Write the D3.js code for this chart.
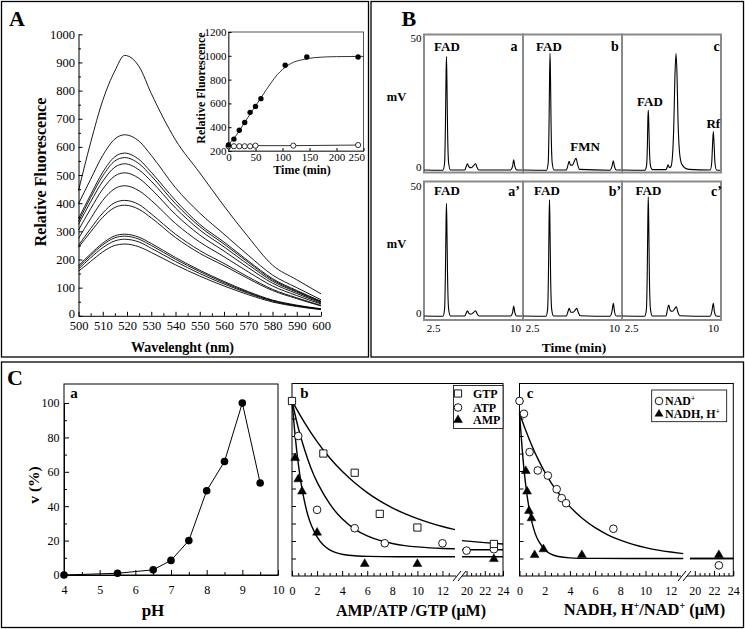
<!DOCTYPE html>
<html><head><meta charset="utf-8">
<script src="https://cdn.jsdelivr.net/npm/d3@7/dist/d3.min.js"></script>
<style>html,body{margin:0;padding:0;background:#fff}svg{display:block}</style>
</head><body>
<script>
// ================= DATA =================
// Panel A – emission spectra
const specWavelengths = [500,505,510,515,519,525,530,540,550,560,570,580,590,600];
const spectrum1  = [445,615,765,870,925,885,790,625,508,390,280,180,128,78];
const spectrum2  = [398,485,570,628,643,620,570,455,365,290,215,145,100,57];
const spectrum3  = [345,430,510,565,578,555,510,410,325,262,195,132,90,52];
const spectrum4  = [335,420,497,550,562,540,497,398,317,255,190,128,87,50];
const spectrum5  = [325,405,478,528,540,518,478,383,305,245,182,123,84,48];
const spectrum6  = [305,380,450,497,508,488,450,360,287,230,171,116,79,45];
const spectrum7  = [275,345,410,452,462,444,410,328,262,210,156,106,72,42];
const spectrum8  = [250,310,365,402,410,395,362,290,232,186,138,94,64,37];
const spectrum9  = [243,298,350,385,393,378,348,278,222,178,132,90,61,35];
const spectrum10 = [178,220,258,284,290,279,257,207,162,122,86,56,38,25];
const spectrum11 = [173,214,252,277,283,272,250,201,157,118,83,54,36,24];
const spectrum12 = [166,206,242,266,272,262,240,193,150,113,80,52,35,23];
const spectrum13 = [158,193,227,250,255,245,225,181,141,106,75,49,33,22];
const spectra = [spectrum1,spectrum2,spectrum3,spectrum4,spectrum5,spectrum6,spectrum7,
                 spectrum8,spectrum9,spectrum10,spectrum11,spectrum12,spectrum13];
const aTicksX = [500,510,520,530,540,550,560,570,580,590,600];
const aMinorX = [505,515,525,535,545,555,565,575,585,595];
const aTicksY = [0,100,200,300,400,500,600,700,800,900,1000];
const aMinorY = [50,150,250,350,450,550,650,750,850,950];

// Panel A inset – kinetics
const insetTicksX = [0,50,100,150,200,250];
const insetTicksY = [200,400,600,800,1000,1200];
const timeFilled  = [0,10,20,30,40,50,60,105,145,240];
const fluorFilled = [250,300,375,440,525,575,640,920,990,990];
const timeOpen    = [0,10,20,30,40,50,120,240];
const fluorOpen   = [240,240,240,240,240,245,245,250];
const fitTime     = [0,10,20,30,40,50,60,70,80,90,100,110,120,140,160,200,250];
const fitFluor    = [255,305,370,440,510,580,645,715,780,840,885,920,945,970,985,993,995];

// Panel B – chromatograms [time (min), mV]
const chromTicks = [2.5,10];
const chromYTicks = [0,50];
const chromA = [[1.7,0.4],[3.41,0.3],[3.56,3],[3.64,18],[3.69,35],[3.73,43],[3.77,35],[3.83,16],[3.93,3],[4.09,0.4],
  [5.4,0.4],[5.55,1.8],[5.65,2.7],[5.78,1.6],[5.98,1.2],[6.2,1.9],[6.4,2.7],[6.52,1.4],[6.7,0.4],
  [9.6,0.4],[9.78,1.8],[9.88,4.2],[9.98,1.8],[10.15,0.4],[10.65,0.4]];
const chromB = [[1.7,0.4],[3.83,0.3],[3.98,3],[4.06,18],[4.11,36],[4.15,44.2],[4.19,36],[4.25,16],[4.35,3],[4.51,0.4],
  [5.65,0.4],[5.8,2.4],[5.9,3.6],[6.02,2.2],[6.2,2.2],[6.38,3.8],[6.53,4.8],[6.66,2.6],[6.85,0.6],
  [9.65,0.3],[9.82,1.8],[9.94,3.8],[10.05,1.6],[10.2,0.4],[10.65,0.4]];
const chromC = [[1.7,0.4],[3.78,0.3],[3.92,2],[4.0,10],[4.04,19],[4.08,22.9],[4.12,19],[4.18,9],[4.28,2],[4.45,0.5],
  [5.7,0.5],[5.82,1.6],[5.9,2.3],[6.0,1.3],[6.15,1.6],[6.3,6],[6.42,18],[6.52,36],[6.62,44.2],[6.71,36],[6.8,19],[6.92,8],[7.1,3],[7.4,1.2],[7.8,0.6],
  [9.75,0.4],[9.88,3],[9.96,10],[10.03,14.8],[10.1,10],[10.18,3],[10.32,0.4],[10.65,0.3]];
const chromA2 = [[1.7,0.4],[3.41,0.3],[3.56,3],[3.64,18],[3.69,35],[3.73,43.4],[3.77,35],[3.83,16],[3.93,3],[4.09,0.4],
  [5.4,0.4],[5.55,1.6],[5.65,2.4],[5.78,1.4],[5.98,1.1],[6.2,1.7],[6.4,2.4],[6.52,1.3],[6.7,0.4],
  [9.6,0.4],[9.78,1.8],[9.88,4.2],[9.98,1.8],[10.15,0.4],[10.65,0.4]];
const chromB2 = [[1.7,0.4],[3.78,0.3],[3.93,3],[4.01,18],[4.06,36],[4.1,44.7],[4.14,36],[4.2,16],[4.3,3],[4.46,0.4],
  [5.65,0.4],[5.8,2.2],[5.9,3.3],[6.05,1.8],[6.25,1.8],[6.45,2.6],[6.6,3.3],[6.73,1.8],[6.9,0.5],
  [9.65,0.3],[9.82,2.2],[9.94,5.2],[10.05,2.0],[10.2,0.4],[10.65,0.4]];
const chromC2 = [[1.7,0.4],[3.76,0.3],[3.91,3],[3.99,18],[4.04,37],[4.08,45.9],[4.12,37],[4.18,16],[4.28,3],[4.44,0.4],
  [5.7,0.4],[5.84,3],[5.95,4.6],[6.1,2.4],[6.3,2.2],[6.5,3.2],[6.65,3.9],[6.78,2],[6.95,0.5],
  [9.75,0.3],[9.9,2.2],[10.03,5.2],[10.13,2],[10.3,0.4],[10.65,0.3]];

// Panel C-a – pH profile
const phTicks = [4,5,6,7,8,9,10];
const phMinor = [4.5,5.5,6.5,7.5,8.5,9.5];
const vTicks = [0,20,40,60,80,100];
const vMinor = [10,30,50,70,90];
const phValues   = [4,5.5,6.5,7,7.5,8,8.5,9,9.5];
const phActivity = [0,1,3,8.5,20,49,66,100,53.5];

// Panel C-b – nucleotides
const concTicks1 = [0,2,4,6,8,10,12];
const concMinor1 = [0.5,1,1.5,2.5,3,3.5,4.5,5,5.5,6.5,7,7.5,8.5,9,9.5,10.5,11,11.5,12.5];
const concTicks2 = [20,22,24];
const concMinor2 = [20.5,21,21.5,22.5,23,23.5];
const vTicksBC = [10,20,30,40,50,60,70,80,90,100];
const gtpConc = [0,2.5,5,7,10,23];
const gtpV    = [100,70,59,35.5,27.7,18.3];
const atpConc = [0.5,2,5,7.4,12,20,23];
const atpV    = [80,37.8,27.3,18.7,18.7,14.5,15.3];
const ampConc = [0.25,0.5,0.8,2,5.8,10,23];
const ampV    = [67.4,55.3,48.3,24.8,6.9,6.9,9.7];
const gtpFitX  = [0,1,2,3,4,5,6,7,8,9,10,11,12,13];
const gtpFitY  = [100,87.3,76.5,67.3,59.6,53.1,47.5,42.8,38.9,35.5,32.7,30.3,28.2,26.5];
const gtpFitX2 = [19.5,22,24];
const gtpFitY2 = [20.2,19.1,18.3];
const atpFitX  = [0,0.5,1,1.5,2,3,4,5,6,7,8,9,10,11,12,13];
const atpFitY  = [100,84,72,61.5,53.2,40.6,32.2,26.5,22.7,20.2,18.5,17.3,16.6,16,15.7,15.5];
const atpFitX2 = [19.5,24];
const atpFitY2 = [15,15];
const ampFitX  = [0,0.25,0.5,0.75,1,1.25,1.5,2,2.5,3,3.5,4,5,6,8,13];
const ampFitY  = [100,79.4,63.6,51.4,42.1,34.9,29.3,21.9,17.4,14.8,13.2,12.3,11.5,11.2,11,11];
const ampFitX2 = [19.5,24];
const ampFitY2 = [11,11];

// Panel C-c – NAD+/NADH
const nadConc  = [0,0.35,0.8,1.45,2.25,2.95,3.35,3.7,7.45,22.5];
const nadV     = [100,92.7,70.8,60.3,57.4,49.6,44.5,41.6,27,6.1];
const nadhConc = [0.5,0.6,0.75,0.95,1.2,1.9,4.95,22.5];
const nadhV    = [60,48.3,37.2,33,12,15.3,12,12];
const nadFitX  = [0,0.5,1,1.5,2,2.5,3,4,5,6,7,8,9,10,11,12,13];
const nadFitY  = [93,82.9,74,66.2,59.3,53.3,48,39.3,32.6,27.4,23.4,20.4,18,16.2,14.7,13.7,12.8];
const nadFitX2 = [19.5,24];
const nadFitY2 = [10,10];
const nadhFitX = [0,0.25,0.5,0.75,1,1.25,1.5,2,2.5,3,4,5,13];
const nadhFitY = [93,68.1,50.7,38.5,30,23.9,19.7,14.8,12.3,11.1,10.3,10,10];
const nadhFitX2 = [19.5,24];
const nadhFitY2 = [10,10];

// ================= DRAWING =================
const FONT = '"Liberation Serif","Times New Roman",Times,serif';
const fmt = d3.format("~g");
const svg = d3.select("body").append("svg").attr("width",745).attr("height",629)
  .style("font-family",FONT);

function frame(x,y,w,h,stroke="#000",sw=1.3){
  return svg.append("rect").attr("x",x).attr("y",y).attr("width",w).attr("height",h)
    .attr("fill","none").attr("stroke",stroke).attr("stroke-width",sw);
}
function txt(x,y,s,size,opt={}){
  const t = svg.append("text").attr("x",x).attr("y",y).attr("font-size",size)
    .attr("font-weight",opt.bold===false?"normal":"bold")
    .attr("text-anchor",opt.anchor||"middle").attr("fill","#000");
  if(opt.rot) t.attr("transform",`rotate(-90,${x},${y})`);
  t.text(s);
  return t;
}
function styleAxis(g,size,keepDomain=true){
  g.attr("font-family",FONT).attr("font-size",size);
  g.selectAll(".tick line").attr("stroke","#000");
  g.selectAll("text").attr("fill","#000");
  if(keepDomain) g.select(".domain").attr("stroke","#000");
  else g.select(".domain").remove();
}
function lineXY(xs,ys,xsc,ysc,curve=d3.curveMonotoneX){
  return d3.line().x((d,i)=>xsc(xs[i])).y((d,i)=>ysc(ys[i])).curve(curve)(xs);
}

// Outer frames
frame(1.5,1.5,367,355.5);
frame(371,1.5,372.5,355.5);
frame(1.5,362,742,265.5);

// ---------- Panel A main ----------
txt(9,26,"A",22,{anchor:"start"});
const xA = d3.scaleLinear().domain([500,600]).range([78.5,321]);
const yA = d3.scaleLinear().domain([0,1000]).range([315.8,34.3]);
svg.append("g").attr("transform",`translate(0,${yA(0)})`)
  .call(d3.axisBottom(xA).tickValues(aTicksX).tickFormat(fmt).tickSize(-4).tickSizeOuter(0).tickPadding(5.5))
  .call(g=>styleAxis(g,12.5));
svg.append("g").attr("transform",`translate(0,${yA(0)})`)
  .call(d3.axisBottom(xA).tickValues(aMinorX).tickSize(-2.5).tickFormat(""))
  .call(g=>styleAxis(g,12.5,false));
svg.append("g").attr("transform",`translate(${xA(500)},0)`)
  .call(d3.axisLeft(yA).tickValues(aTicksY).tickFormat(fmt).tickSize(-4).tickSizeOuter(0).tickPadding(3.5))
  .call(g=>{styleAxis(g,12.5);
    g.selectAll(".tick text").filter(d=>d===0).attr("dy","0.1em");});
svg.append("g").attr("transform",`translate(${xA(500)},0)`)
  .call(d3.axisLeft(yA).tickValues(aMinorY).tickSize(-2.5).tickFormat(""))
  .call(g=>styleAxis(g,12.5,false));
spectra.forEach(s=>{
  svg.append("path").attr("d",lineXY(specWavelengths,s,xA,yA))
    .attr("fill","none").attr("stroke","#000").attr("stroke-width",0.9);
});
txt(45.5,172,"Relative Fluorescence",16,{rot:true});
txt(182.5,352,"Wavelenght (nm)",14);

// ---------- Panel A inset ----------
const xI = d3.scaleLinear().domain([0,250]).range([228.5,363.5]);
const yI = d3.scaleLinear().domain([200,1200]).range([151,32]);
svg.append("rect").attr("x",228.5).attr("y",32).attr("width",135).attr("height",119)
  .attr("fill","#fff").attr("stroke","#555").attr("stroke-width",1);
svg.append("g").attr("transform",`translate(0,151)`)
  .call(d3.axisBottom(xI).tickValues(insetTicksX).tickFormat(fmt).tickSize(-3).tickSizeOuter(0).tickPadding(1.8))
  .call(g=>{styleAxis(g,11); g.select(".domain").attr("stroke","#555");
    g.selectAll(".tick text").filter(d=>d===250).attr("text-anchor","end").attr("dx","0.1em");});
svg.append("g").attr("transform",`translate(228.5,0)`)
  .call(d3.axisLeft(yI).tickValues(insetTicksY).tickFormat(fmt).tickSize(-3).tickSizeOuter(0).tickPadding(2))
  .call(g=>{styleAxis(g,11); g.select(".domain").attr("stroke","#555");});
svg.append("path").attr("d",lineXY(fitTime,fitFluor,xI,yI))
  .attr("fill","none").attr("stroke","#000").attr("stroke-width",0.8);
svg.append("path").attr("d",lineXY(timeOpen,fluorOpen,xI,yI,d3.curveLinear))
  .attr("fill","none").attr("stroke","#000").attr("stroke-width",0.8);
svg.append("g").selectAll("circle").data(timeOpen).join("circle")
  .attr("cx",d=>xI(d)).attr("cy",(d,i)=>yI(fluorOpen[i])).attr("r",2.6)
  .attr("fill","#fff").attr("stroke","#000").attr("stroke-width",0.8);
svg.append("g").selectAll("circle").data(timeFilled).join("circle")
  .attr("cx",d=>xI(d)).attr("cy",(d,i)=>yI(fluorFilled[i])).attr("r",2.7).attr("fill","#000");
txt(205,88,"Relative Fluorescence",12,{rot:true});
txt(302,174,"Time (min)",12);

// ---------- Panel B ----------
txt(401.5,26,"B",22,{anchor:"start"});
const bCols = [424,523,622];
const bRows = [{top:34.5,bottom:172.5,y0:171,y50:38},{top:181.5,bottom:320,y0:317,y50:186}];
const chroms = [[chromA,chromB,chromC],[chromA2,chromB2,chromC2]];
bRows.forEach((row,ri)=>{
  bCols.forEach((L,ci)=>{
    const x = d3.scaleLinear().domain([2.5,10]).range([L+9,L+91]);
    const y = d3.scaleLinear().domain([0,50]).range([row.y0,row.y50]);
    svg.append("rect").attr("x",L).attr("y",row.top).attr("width",99).attr("height",row.bottom-row.top)
      .attr("fill","none").attr("stroke","#8a8a8a").attr("stroke-width",2);
    const pts = chroms[ri][ci];
    svg.append("path").attr("d",d3.line().x(d=>x(d[0])).y(d=>y(d[1])).curve(d3.curveMonotoneX)(pts))
      .attr("fill","none").attr("stroke","#000").attr("stroke-width",1.1);
    if(ri===1){
      svg.append("g").attr("transform",`translate(0,${row.bottom})`)
        .call(d3.axisBottom(x).tickValues(chromTicks).tickFormat(fmt).tickSize(0).tickPadding(4))
        .call(g=>styleAxis(g,11,false));
    }
  });
  const y = d3.scaleLinear().domain([0,50]).range([row.y0,row.y50]);
  chromYTicks.forEach(v=>{
    txt(421.5, v===0 ? y(v) : y(v)+4, String(v), 11, {anchor:"end",bold:false});
  });
  txt(396.5,(row.top+row.bottom)/2-3,"mV",12.5);
});
// labels in B
txt(447,51,"FAD",13); txt(514,51,"a",14);
txt(549,51,"FAD",13); txt(615,51,"b",14);
txt(716.5,51,"c",14);
txt(585,151,"FMN",13);
txt(650,106,"FAD",13); txt(713.3,128,"Rf",13);
txt(447,194.5,"FAD",13); txt(514,196,"a\u2019",14);
txt(547,194.5,"FAD",13); txt(615,196,"b\u2019",14);
txt(648.5,194.5,"FAD",13); txt(716.5,196,"c\u2019",14);
txt(574,352,"Time (min)",13.5);

// ---------- Panel C ----------
txt(7,385,"C",22,{anchor:"start"});
// C-a
const xPH = d3.scaleLinear().domain([4,10]).range([64,278]);
const yVa = d3.scaleLinear().domain([0,100]).range([575,403]);
frame(64,384,214,191,"#000",1);
svg.append("g").attr("transform",`translate(0,575)`)
  .call(d3.axisBottom(xPH).tickValues(phTicks).tickFormat(fmt).tickSize(-5).tickSizeOuter(0).tickPadding(10))
  .call(g=>styleAxis(g,12));
svg.append("g").attr("transform",`translate(0,575)`)
  .call(d3.axisBottom(xPH).tickValues(phMinor).tickSize(-3).tickFormat(""))
  .call(g=>styleAxis(g,12,false));
svg.append("g").attr("transform",`translate(64,0)`)
  .call(d3.axisLeft(yVa).tickValues(vTicks).tickFormat(fmt).tickSize(-5).tickSizeOuter(0).tickPadding(4.5))
  .call(g=>styleAxis(g,12));
svg.append("g").attr("transform",`translate(64,0)`)
  .call(d3.axisLeft(yVa).tickValues(vMinor).tickSize(-3).tickFormat(""))
  .call(g=>styleAxis(g,12,false));
svg.append("path").attr("d",lineXY(phValues,phActivity,xPH,yVa,d3.curveLinear))
  .attr("fill","none").attr("stroke","#000").attr("stroke-width",1);
svg.append("g").selectAll("circle").data(phValues).join("circle")
  .attr("cx",d=>xPH(d)).attr("cy",(d,i)=>yVa(phActivity[i])).attr("r",3.8).attr("fill","#000");
txt(74,398,"a",15);
txt(39,485,"v (%)",15.5,{rot:true});
txt(153,616,"pH",17);

// helper for broken-axis panels
function brokenPanel(cfg){
  const {x1,x2,y,left,right,top,bottom} = cfg;
  frame(left,top,right-left,bottom-top,"#000",1);
  svg.append("g").attr("transform",`translate(0,${bottom})`)
    .call(d3.axisBottom(x1).tickValues(concTicks1).tickFormat(fmt).tickSize(-5).tickSizeOuter(0).tickPadding(10))
    .call(g=>styleAxis(g,12,false));
  svg.append("g").attr("transform",`translate(0,${bottom})`)
    .call(d3.axisBottom(x1).tickValues(concMinor1).tickSize(-3).tickFormat(""))
    .call(g=>styleAxis(g,12,false));
  svg.append("g").attr("transform",`translate(0,${bottom})`)
    .call(d3.axisBottom(x2).tickValues(concTicks2).tickFormat(fmt).tickSize(-5).tickSizeOuter(0).tickPadding(10))
    .call(g=>styleAxis(g,12,false));
  svg.append("g").attr("transform",`translate(0,${bottom})`)
    .call(d3.axisBottom(x2).tickValues(concMinor2).tickSize(-3).tickFormat(""))
    .call(g=>styleAxis(g,12,false));
  svg.append("g").attr("transform",`translate(${left},0)`)
    .call(d3.axisLeft(y).tickValues(vTicksBC).tickSize(-4).tickFormat(""))
    .call(g=>styleAxis(g,12,false));
  // break marks
  const bx = cfg.breakX;
  svg.append("rect").attr("x",bx-1).attr("y",bottom-2).attr("width",6).attr("height",4).attr("fill","#fff");
  [0,5].forEach(o=>{
    svg.append("line").attr("x1",bx-4+o).attr("y1",bottom+5).attr("x2",bx+4+o).attr("y2",bottom-5)
      .attr("stroke","#000").attr("stroke-width",1);
  });
}
function fit(xs,ys,xs2,ys2,x1,x2,y){
  svg.append("path").attr("d",lineXY(xs,ys,x1,y,d3.curveBasis))
    .attr("fill","none").attr("stroke","#000").attr("stroke-width",1.4);
  svg.append("path").attr("d",lineXY(xs2,ys2,x2,y,d3.curveLinear))
    .attr("fill","none").attr("stroke","#000").attr("stroke-width",1.4);
}
function pos(c,x1,x2){ return c>15 ? x2(c) : x1(c); }
function markers(cs,vs,x1,x2,y,type,filled){
  svg.append("g").selectAll("path").data(cs).join("path")
    .attr("transform",(d,i)=>`translate(${pos(d,x1,x2)},${y(vs[i])})`)
    .attr("d",d3.symbol().type(type).size(type===d3.symbolTriangle?34:(type===d3.symbolSquare?52:46)))
    .attr("fill",filled?"#000":"#fff").attr("stroke","#000").attr("stroke-width",filled?0.5:0.9);
}

// C-b
const xb1 = d3.scaleLinear().domain([0,13]).range([292,455]);
const xb2 = d3.scaleLinear().domain([19.5,24]).range([462,503]);
const yb  = d3.scaleLinear().domain([0,100]).range([576,401]);
brokenPanel({x1:xb1,x2:xb2,y:yb,left:292,right:503,top:383.5,bottom:576,breakX:457});
fit(gtpFitX,gtpFitY,gtpFitX2,gtpFitY2,xb1,xb2,yb);
fit(atpFitX,atpFitY,atpFitX2,atpFitY2,xb1,xb2,yb);
fit(ampFitX,ampFitY,ampFitX2,ampFitY2,xb1,xb2,yb);
markers(ampConc,ampV,xb1,xb2,yb,d3.symbolTriangle,true);
markers(atpConc,atpV,xb1,xb2,yb,d3.symbolCircle,false);
markers(gtpConc,gtpV,xb1,xb2,yb,d3.symbolSquare,false);
txt(304.5,398,"b",15);
// legend b
svg.append("rect").attr("x",453.5).attr("y",385.5).attr("width",49.5).attr("height",43)
  .attr("fill","#fff").attr("stroke","#000").attr("stroke-width",0.8);
[[d3.symbolSquare,false,"GTP",393.5],[d3.symbolCircle,false,"ATP",407.5],[d3.symbolTriangle,true,"AMP",420]].forEach(([t,f,l,yy])=>{
  svg.append("path").attr("transform",`translate(458,${yy})`)
    .attr("d",d3.symbol().type(t).size(t===d3.symbolTriangle?34:(t===d3.symbolSquare?52:46)))
    .attr("fill",f?"#000":"#fff").attr("stroke","#000").attr("stroke-width",f?0.5:0.9);
  txt(473,yy+4.2,l,12,{anchor:"start"});
});
txt(411,616,"AMP/ATP /GTP (\u03bcM)",16);

// C-c
const xc1 = d3.scaleLinear().domain([0,13]).range([519.5,683.3]);
const xc2 = d3.scaleLinear().domain([19.5,24]).range([690,733.3]);
const yc  = d3.scaleLinear().domain([0,100]).range([576,401]);
brokenPanel({x1:xc1,x2:xc2,y:yc,left:519.5,right:733.3,top:383.5,bottom:576,breakX:682});
fit(nadFitX,nadFitY,nadFitX2,nadFitY2,xc1,xc2,yc);
fit(nadhFitX,nadhFitY,nadhFitX2,nadhFitY2,xc1,xc2,yc);
markers(nadhConc,nadhV,xc1,xc2,yc,d3.symbolTriangle,true);
markers(nadConc,nadV,xc1,xc2,yc,d3.symbolCircle,false);
txt(530,398,"c",15);
// legend c
svg.append("rect").attr("x",651.7).attr("y",390).attr("width",75).attr("height",31.7)
  .attr("fill","#fff").attr("stroke","#000").attr("stroke-width",0.8);
svg.append("path").attr("transform","translate(659,401)").attr("d",d3.symbol().type(d3.symbolCircle).size(46))
  .attr("fill","#fff").attr("stroke","#000").attr("stroke-width",0.9);
svg.append("path").attr("transform","translate(659,414)").attr("d",d3.symbol().type(d3.symbolTriangle).size(34))
  .attr("fill","#000");
function supText(x,y,parts,size,anchor){
  const t = svg.append("text").attr("x",x).attr("y",y).attr("font-size",size).attr("font-weight","bold")
    .attr("text-anchor",anchor).attr("fill","#000");
  let prevSup=false;
  parts.forEach(([s,sup])=>{
    const ts = t.append("tspan").text(s);
    if(sup) ts.attr("font-size",size*0.6).attr("dy",-size*0.38);
    else if(prevSup) ts.attr("dy",size*0.38);
    prevSup = sup;
  });
  return t;
}
supText(665,405.2,[["NAD",false],["+",true]],12,"start");
supText(665,418.2,[["NADH, H",false],["+",true]],12,"start");
supText(644.5,615,[["NADH, H",false],["+",true],["/NAD",false],["+",true],[" (\u03bcM)",false]],16.5,"middle");
</script>
</body></html>
